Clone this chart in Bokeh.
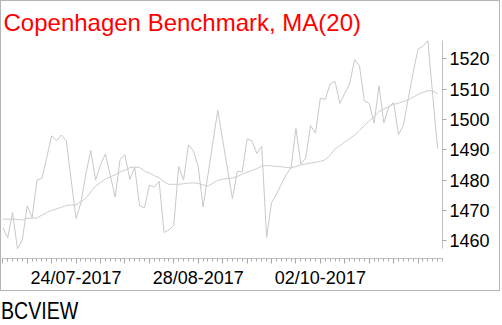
import pandas as pd
from bokeh.plotting import figure
from bokeh.models import Range1d, FixedTicker, Div
from bokeh.layouts import column
from bokeh.embed import file_html
from bokeh.resources import INLINE

# ---- data ----
start_date = "2017-07-03"
close = [1464.4, 1460.9, 1469.3, 1457.3, 1460.2, 1471.5, 1467.6, 1480.0, 1480.5, 1487.5,
         1494.6, 1493.0, 1494.9, 1493.0, 1480.0, 1467.3, 1472.5, 1482.0, 1489.8, 1480.0,
         1485.1, 1488.6, 1481.5, 1474.4, 1486.8, 1488.4, 1480.2, 1484.2, 1471.5, 1470.9,
         1478.3, 1477.7, 1479.6, 1462.7, 1463.5, 1465.1, 1484.5, 1480.0, 1491.6, 1489.7,
         1484.5, 1471.1, 1481.8, 1492.4, 1503.1, 1493.3, 1483.6, 1473.9, 1482.9, 1482.7,
         1493.6, 1493.0, 1488.8, 1491.1, 1461.1, 1472.5, 1475.3, 1478.6, 1481.8, 1484.0,
         1497.1, 1485.3, 1487.3, 1498.0, 1495.5, 1507.1, 1506.6, 1511.8, 1512.6, 1505.3,
         1508.7, 1511.8, 1519.8, 1517.8, 1506.2, 1505.3, 1498.8, 1511.1, 1498.9, 1504.2,
         1505.6, 1495.0, 1498.2, 1507.0, 1515.5, 1523.3, 1524.2, 1526.1, 1508.0, 1490.4]
ma20 = [1467.1, 1467.1, 1467.1, 1467.0, 1466.8, 1467.4, 1467.4, 1467.5, 1468.4, 1469.3,
        1470.0, 1470.5, 1471.0, 1471.6, 1471.8, 1471.8, 1472.9, 1474.0, 1476.1, 1478.0,
        1479.2, 1480.3, 1481.1, 1481.7, 1482.7, 1483.3, 1484.1, 1484.3, 1484.2, 1483.0,
        1482.3, 1481.5, 1480.8, 1479.4, 1478.6, 1478.6, 1478.6, 1478.8, 1479.0, 1479.1,
        1478.9, 1478.4, 1478.0, 1479.0, 1479.9, 1480.3, 1480.5, 1480.7, 1481.2, 1481.9,
        1482.6, 1483.2, 1483.8, 1484.6, 1484.8, 1484.7, 1484.5, 1484.4, 1484.2, 1484.0,
        1484.5, 1485.0, 1485.3, 1485.6, 1485.9, 1486.2, 1486.7, 1488.2, 1490.3, 1491.3,
        1492.6, 1493.7, 1494.9, 1496.3, 1498.0, 1499.5, 1501.0, 1502.6, 1503.5, 1504.3,
        1505.0, 1505.4, 1506.0, 1506.5, 1507.4, 1508.3, 1509.0, 1509.5, 1509.5, 1508.5]
y_ticks = [1460, 1470, 1480, 1490, 1500, 1510, 1520]
x_labelled_dates = ["2017-07-24", "2017-08-28", "2017-10-02"]
title_text = "Copenhagen Benchmark, MA(20)"
footer_text = "BCVIEW"

# ---- derived ----
dates = pd.bdate_range(start_date, periods=len(close))
idx = list(range(len(dates)))
mondays = [i for i, d in enumerate(dates) if d.weekday() == 0]
overrides = {}
for i in mondays:
    d = dates[i]
    overrides[i] = d.strftime("%d/%m-%Y") if d.strftime("%Y-%m-%d") in x_labelled_dates else ""

lo, hi = min(close), max(close)

p = figure(width=500, height=291, output_backend="svg", toolbar_location=None,
           x_range=Range1d(-0.06, len(close)), y_range=Range1d(lo - 3.2, hi),
           y_axis_location="right",
           min_border_left=1, min_border_right=59, min_border_top=37, min_border_bottom=34)
p.styles = {"border": "1px solid #b4b4b4"}
p.outline_line_color = None
p.grid.visible = False
p.background_fill_color = "white"
p.border_fill_color = "white"

p.title.text = title_text
p.title.text_color = "#ff0000"
p.title.text_font = "Liberation Sans"
p.title.text_font_size = "24px"
p.title.text_font_style = "normal"
p.title.offset = 1

p.line(idx, ma20, line_color="#cccccc", line_width=1)
p.line(idx, close, line_color="#c8c8c8", line_width=1)

xa = p.xaxis[0]
xa.ticker = FixedTicker(ticks=mondays, minor_ticks=list(range(0, len(close) + 1)))
xa.major_label_overrides = overrides
xa.axis_line_color = "#c0c0c0"
xa.major_tick_line_color = "#a8a8a8"
xa.minor_tick_line_color = "#a8a8a8"
xa.major_tick_out = 5
xa.major_tick_in = 0
xa.minor_tick_out = 3
xa.minor_tick_in = 0
xa.major_label_text_font = "Liberation Sans"
xa.major_label_text_font_size = "18px"
xa.major_label_text_color = "black"
xa.major_label_standoff = 4

ya = p.yaxis[0]
ya.ticker = FixedTicker(ticks=y_ticks, minor_ticks=[])
ya.bounds = (lo, hi)
ya.axis_line_color = "#c0c0c0"
ya.major_tick_line_color = "#a8a8a8"
ya.major_tick_out = 4
ya.major_tick_in = 0
ya.minor_tick_out = 0
ya.major_label_text_font = "Liberation Sans"
ya.major_label_text_font_size = "18px"
ya.major_label_text_color = "black"
ya.major_label_standoff = 3

footer = Div(text=footer_text, width=200, height=30,
             styles={"font-family": "Liberation Sans", "font-size": "24.5px", "color": "black",
                     "transform": "scaleX(0.8)", "transform-origin": "left top",
                     "margin-top": "6px", "margin-left": "1px", "line-height": "1.15"})

layout = column(p, footer, spacing=0)
open("out.html", "w").write(file_html(layout, INLINE))
